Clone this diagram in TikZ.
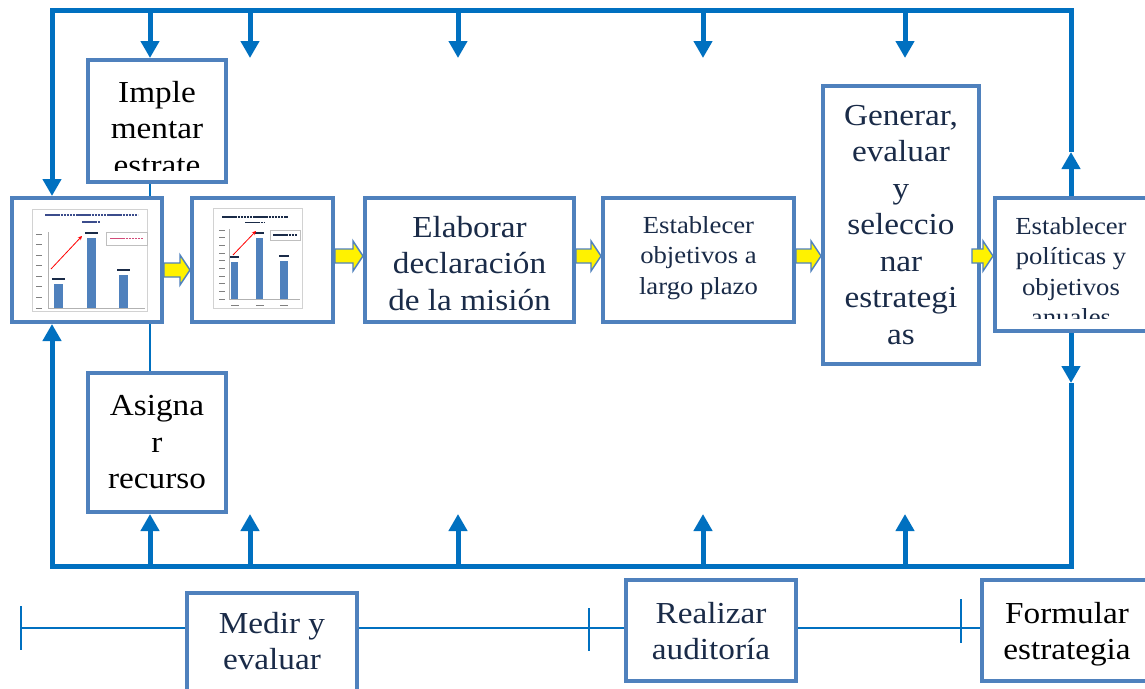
\documentclass[tikz,border=0pt]{standalone}
\usepackage{fontspec}
\setmainfont[FakeStretch=1.09]{Liberation Serif}
\usetikzlibrary{arrows.meta,calc}
\definecolor{loopblue}{HTML}{0070C0}
\definecolor{boxblue}{HTML}{4F81BD}
\definecolor{navy}{HTML}{1A2B48}
\definecolor{titleblue}{HTML}{3B4C8C}
\begin{document}
\begin{tikzpicture}[x=1pt,y=-1pt,
  box/.style={draw=boxblue, line width=4pt, fill=white, inner sep=0pt},
  loopline/.style={draw=loopblue, line width=5pt, line join=miter},
  looparrow/.style={loopline, -{Triangle[width=18pt,length=17pt]}},
  link/.style={draw=loopblue, line width=1.6pt},
  lbl/.style={inner sep=0pt, align=center},
  big/.style={font=\fontsize{30.5}{36.5}\selectfont},
  mid/.style={font=\fontsize{24.5}{30.5}\selectfont},
  yarrow/.style={fill=yellow, draw=boxblue, line width=1.4pt, line join=miter,
    to path={let \p1=(\tikztostart), \p2=(\tikztotarget) in
      (\x1,\y1+7pt) -- (\x2-10pt,\y1+7pt) -- (\x2-10pt,\y1+15pt) -- (\x2,\y1)
      -- (\x2-10pt,\y1-15pt) -- (\x2-10pt,\y1-7pt) -- (\x1,\y1-7pt) -- cycle}},
  smudge/.style={line width=1.2pt, dash pattern=on 2.5pt off 0.6pt},
  bar/.style={fill=boxblue}
]
\clip (0,0) rectangle (1145,688);
\fill[white] (0,0) rectangle (1145,688);

% ---------- process boxes ----------
\node[box, minimum width=138pt, minimum height=122pt] (impl) at (157,121) {};
\node[box, minimum width=150pt, minimum height=124pt] (chartA) at (87,260) {};
\node[box, minimum width=141pt, minimum height=124pt] (chartB) at (262.5,260) {};
\node[box, minimum width=209pt, minimum height=124pt] (elab) at (469.5,260) {};
\node[box, minimum width=191pt, minimum height=124pt] (estab) at (698.5,260) {};
\node[box, minimum width=156pt, minimum height=278pt] (gen) at (901,225) {};
\node[box, minimum width=165pt, minimum height=133pt] (pol) at (1077.5,264.5) {};
\node[box, minimum width=138pt, minimum height=139pt] (asig) at (157,442.5) {};

% box texts (clipped to the text area of each box)
\begin{scope}
  \clip (90,62) rectangle (224,170);
  \node[lbl, big, anchor=north] (impltext) at (157,81) {Imple\\mentar\\estrate};
\end{scope}
\begin{scope}
  \clip (367,200) rectangle (572,311);
  \node[lbl, big, anchor=north, text=navy] (elabtext) at (469.5,216) {Elaborar\\declaración\\de la misión};
\end{scope}
\node[lbl, mid, text=navy] (estabtext) at (698.5,258) {Establecer\\objetivos a\\largo plazo};
\node[lbl, big, text=navy] (gentext) at (901,225) {Generar,\\evaluar\\y\\seleccio\\nar\\estrategi\\as};
\begin{scope}
  \clip (997,200) rectangle (1145,318);
  \node[lbl, mid, anchor=north, text=navy] (poltext) at (1071,217) {Establecer\\políticas y\\objetivos\\anuales};
\end{scope}
\node[lbl, big] (asigtext) at (157,442.5) {Asigna\\r\\recurso};

% ---------- small bar charts ----------
% chart in the first box
\draw[gray!35, line width=0.5pt] (32,209) rectangle (147,311);
\draw[smudge, titleblue] (45,215) -- (138,215);
\draw[smudge, titleblue] (82,222) -- (100,222);
\foreach \yy in {234,244.5,255,265.5,276,286.5,297,308}
  \draw[gray, line width=1pt] (36,\yy) -- (42,\yy);
\draw[gray!60, line width=0.6pt] (48,232) -- (48,308) -- (145,308);
\fill[bar] (54,284) rectangle (63,308);
\fill[bar] (87,238) rectangle (96,308);
\fill[bar] (119,275) rectangle (128,308);
\draw[smudge, navy] (52,279) -- (65,279);
\draw[smudge, navy] (85,233) -- (98,233);
\draw[smudge, navy] (117,270) -- (130,270);
\draw[red, line width=0.8pt, -{Stealth[length=4pt,width=4pt]}] (51,269) -- (82,236);
\draw[gray!50, fill=white, line width=0.5pt] (106,232) rectangle (147,245);
\draw[smudge, purple!70] (110,238.5) -- (143,238.5);

% chart in the second box
\draw[gray!35, line width=0.5pt] (213,208) rectangle (302,308);
\draw[smudge, navy] (222,217) -- (288,217);
\draw[smudge, navy] (245,222.5) -- (265,222.5);
\foreach \yy in {230,237.7,245.3,253,260.7,268.3,276,283.7,291.3,299}
  \draw[gray, line width=0.9pt] (219,\yy) -- (225,\yy);
\draw[gray!60, line width=0.6pt] (229,229) -- (229,299) -- (300,299);
\fill[bar] (231,262) rectangle (238,299);
\fill[bar] (256,238) rectangle (263,299);
\fill[bar] (280,261) rectangle (288,299);
\draw[smudge, navy] (230,257) -- (239,257);
\draw[smudge, navy] (255,233) -- (264,233);
\draw[smudge, navy] (279,256) -- (289,256);
\draw[red, line width=0.8pt, -{Stealth[length=4pt,width=4pt]}] (233,255) -- (256,231);
\draw[gray!50, fill=white, line width=0.5pt] (270,230) rectangle (300,240);
\draw[smudge, navy] (273,235) -- (297,235);
\foreach \xx in {235,260,284}
  \draw[gray, line width=1pt] (\xx-4,305) -- (\xx+4,305);

% thin links through the first chart column
\draw[link] (impl.south -| 150,0) -- (chartA.north -| 150,0);
\draw[link] (chartA.south -| 150,0) -- (asig.north -| 150,0);

% ---------- yellow flow arrows ----------
\path[yarrow] ([yshift=-10pt]chartA.east) to (chartB.west);
\path[yarrow] ([yshift=4pt]chartB.east) to (elab.west);
\path[yarrow] ([yshift=4pt]elab.east) to (estab.west);
\path[yarrow] ([yshift=4pt]estab.east) to (gen.west);
\path[yarrow] ([xshift=-9pt,yshift=-31pt]gen.east) to (pol.west);

% ---------- feedback loop ----------
\coordinate (topL) at (52,10);
\coordinate (topR) at (1071,10);
\coordinate (botL) at (52,566);
\coordinate (botR) at (1071,566);
\coordinate (upEnd) at (1071,152);
\coordinate (downEnd) at (1071,383);

\draw[looparrow] (upEnd) -- (topR) -- (topL) -- (chartA.north -| topL);
\draw[looparrow] (downEnd) -- (botR) -- (botL) -- (chartA.south -| botL);
\draw[looparrow] (pol.north -| topR) -- (upEnd);
\draw[looparrow] (pol.south -| botR) -- (downEnd);

\foreach \xx/\nm in {250/b,458/c,703/d,905/e}{
  \coordinate (down\nm) at (\xx,58);
  \coordinate (up\nm) at (\xx,514);
}
\draw[looparrow] (topL -| 150,0) -- (impl.north -| 150,0);
\draw[looparrow] (botL -| 150,0) -- (asig.south -| 150,0);
\foreach \nm in {b,c,d,e}{
  \draw[looparrow] (topL -| down\nm) -- (down\nm);
  \draw[looparrow] (botL -| up\nm) -- (up\nm);
}

% ---------- stage timeline ----------
\node[box, minimum width=170pt, minimum height=117pt] (medir) at (272,651.5) {};
\node[box, minimum width=170pt, minimum height=101pt] (real) at (711,630.5) {};
\node[box, minimum width=178pt, minimum height=101pt] (form) at (1071,630.5) {};
\node[lbl, big, anchor=north, text=navy] (medirtext) at (272,612) {Medir y\\evaluar};
\node[lbl, big, anchor=north, text=navy] (realtext) at (711,602) {Realizar\\auditoría};
\node[lbl, big, anchor=north] (formtext) at (1067,602) {Formular\\estrategia};

\coordinate (tickA) at (21,628);
\coordinate (tickB) at (589,628);
\coordinate (tickC) at (961,628);
\draw[link] (21,606) -- (21,650);
\draw[link] (589,608) -- (589,651);
\draw[link] (961,599) -- (961,643);
\draw[link] (tickA) -- (medir.west |- tickA);
\draw[link] (medir.east |- tickA) -- (real.west |- tickA);
\draw[link] (real.east |- tickA) -- (form.west |- tickA);
\end{tikzpicture}
\end{document}
